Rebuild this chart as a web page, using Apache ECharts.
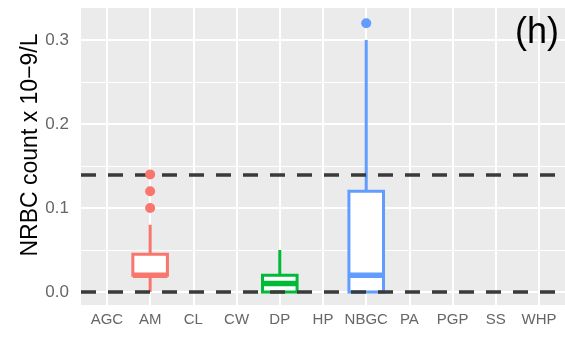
<!DOCTYPE html>
<html>
<head>
<meta charset="utf-8">
<script src="https://cdn.jsdelivr.net/npm/echarts@6/dist/echarts.min.js"></script>
<style>html,body{margin:0;padding:0;background:#fff}#c{width:565px;height:338px}</style>
</head>
<body>
<div id="c"></div>
<script>
// ---- data ----
const categories = ['AGC','AM','CL','CW','DP','HP','NBGC','PA','PGP','SS','WHP'];
const boxCategories = ['AM','DP','NBGC'];
const lowerWhisker = [0, 0, 0];
const q1Values = [0.02, 0, 0];
const medianValues = [0.02, 0.01, 0.02];
const q3Values = [0.045, 0.02, 0.12];
const upperWhisker = [0.08, 0.05, 0.30];
const outlierCats = ['AM','AM','AM','NBGC'];
const outlierValues = [0.10, 0.12, 0.14, 0.32];
const refLines = [0, 0.14];
const yTicks = [0, 0.1, 0.2, 0.3];
const yMinor = [0.05, 0.15, 0.25];
const boxColors = ['#F8766D', '#00BA38', '#619CFF'];

const FONT = 'Liberation Sans, Arial, sans-serif';
const boxData = boxCategories.map((c, i) => [categories.indexOf(c), lowerWhisker[i], q1Values[i], medianValues[i], q3Values[i], upperWhisker[i], i]);
const outlierData = outlierCats.map((c, i) => ({
  value: [categories.indexOf(c), outlierValues[i]],
  itemStyle: { color: boxColors[boxCategories.indexOf(c)], opacity: 1 }
}));

const gridLines = [];
yTicks.forEach(v => gridLines.push({ yAxis: v, lineStyle: { color: '#fff', width: 2, type: 'solid' } }));
yMinor.forEach(v => gridLines.push({ yAxis: v, lineStyle: { color: '#fff', width: 1, type: 'solid' } }));
categories.forEach((c, i) => gridLines.push({ xAxis: i, lineStyle: { color: '#fff', width: 2, type: 'solid' } }));

const chart = echarts.init(document.getElementById('c'), null, { renderer: 'canvas' });
chart.setOption({
  animation: false,
  grid: { left: 81, right: 0, top: 8, bottom: 33, show: true, backgroundColor: '#EBEBEB', borderWidth: 0 },
  xAxis: {
    type: 'value', min: -0.6, max: 10.6,
    axisLine: { show: false },
    splitLine: { show: false },
    axisTick: { show: true, customValues: categories.map((c, i) => i), length: 5, lineStyle: { color: '#333', width: 2 } },
    axisLabel: { customValues: categories.map((c, i) => i), formatter: v => categories[Math.round(v)], color: '#666', fontSize: 15, fontFamily: FONT, margin: 7 }
  },
  yAxis: {
    type: 'value', min: -0.0155, max: 0.3381,
    axisLine: { show: false },
    splitLine: { show: false },
    axisTick: { show: true, customValues: yTicks, length: 5, lineStyle: { color: '#333', width: 2 } },
    axisLabel: { customValues: yTicks, formatter: v => v.toFixed(1), color: '#666', fontSize: 17, fontFamily: FONT, margin: 12 }
  },
  graphic: [
    { type: 'text', x: 31, y: 145, rotation: Math.PI / 2, style: { text: 'NRBC count x 10\u22129/L', font: '23px ' + FONT, fill: '#000', align: 'center', verticalAlign: 'middle' } },
    { type: 'text', x: 537, y: 33, z: 100, style: { text: '(h)', font: '36px ' + FONT, fill: '#000', align: 'center', verticalAlign: 'middle' } }
  ],
  series: [
    {
      type: 'scatter', data: [], z: 1, silent: true,
      markLine: { z: 1, silent: true, symbol: 'none', label: { show: false }, animation: false, data: gridLines }
    },
    {
      type: 'custom', z: 2, data: boxData,
      encode: { x: 0, y: [1, 2, 3, 4, 5] },
      renderItem: function (params, api) {
        const x = api.value(0);
        const col = boxColors[api.value(6)];
        const halfW = api.size([0.8, 0])[0] / 2;
        const pLow = api.coord([x, api.value(1)]);
        const pQ1 = api.coord([x, api.value(2)]);
        const pMed = api.coord([x, api.value(3)]);
        const pQ3 = api.coord([x, api.value(4)]);
        const pHigh = api.coord([x, api.value(5)]);
        const cx = pQ1[0];
        return {
          type: 'group',
          children: [
            { type: 'line', shape: { x1: cx, y1: pQ3[1], x2: cx, y2: pHigh[1] }, style: { stroke: col, lineWidth: 3 } },
            { type: 'line', shape: { x1: cx, y1: pQ1[1], x2: cx, y2: pLow[1] }, style: { stroke: col, lineWidth: 3 } },
            { type: 'rect', shape: { x: cx - halfW, y: pQ3[1], width: halfW * 2, height: pQ1[1] - pQ3[1] }, style: { fill: '#fff', stroke: col, lineWidth: 3 } },
            { type: 'line', shape: { x1: cx - halfW, y1: pMed[1], x2: cx + halfW, y2: pMed[1] }, style: { stroke: col, lineWidth: 5.5 } }
          ]
        };
      }
    },
    {
      type: 'scatter', data: [], z: 3, silent: true,
      markLine: {
        z: 5, silent: true, symbol: 'none', label: { show: false }, animation: false,
        lineStyle: { color: '#3a3a3a', width: 3.5, type: [15, 12] },
        data: refLines.map(v => ({ yAxis: v }))
      }
    },
    {
      type: 'scatter', z: 10, symbol: 'circle', symbolSize: 10, data: outlierData
    }
  ]
});
</script>
</body>
</html>
